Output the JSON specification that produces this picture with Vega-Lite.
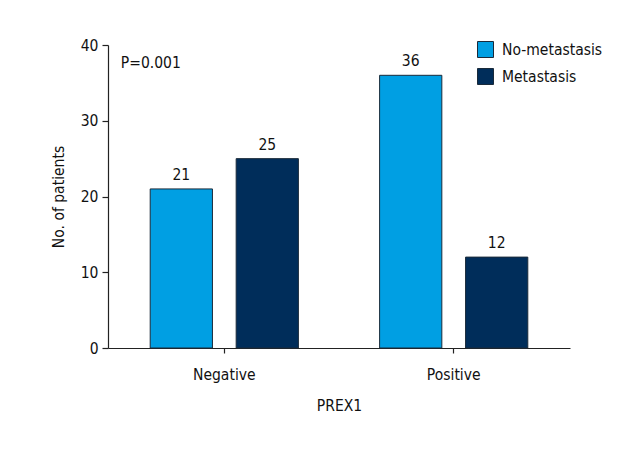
{
  "$schema": "https://vega.github.io/schema/vega-lite/v6.json",
  "width": 462,
  "height": 303,
  "autosize": {"type": "none"},
  "padding": {"left": 108, "top": 45, "right": 70, "bottom": 112},
  "background": "white",
  "config": {
    "font": "DejaVu Sans Condensed, Roboto, sans-serif",
    "view": {"stroke": null},
    "axis": {"grid": false, "domainColor": "#222", "tickColor": "#222", "labelColor": "#111", "titleColor": "#111", "labelFontSize": 15.5, "titleFontSize": 15.5, "titleFontWeight": "normal", "domainWidth": 1.2, "tickWidth": 1.2}
  },
  "data": {"values": [
    {"PREX1": "Negative", "group": "No-metastasis", "n": 21},
    {"PREX1": "Negative", "group": "Metastasis", "n": 25},
    {"PREX1": "Positive", "group": "No-metastasis", "n": 36},
    {"PREX1": "Positive", "group": "Metastasis", "n": 12}
  ]},
  "layer": [
    {
      "mark": {"type": "bar", "stroke": "#1a2a3a", "strokeWidth": 1},
      "encoding": {
        "x": {"field": "PREX1", "type": "nominal", "title": "PREX1",
          "scale": {"paddingInner": 0.246, "paddingOuter": 0.13},
          "axis": {"labelAngle": 0, "labelPadding": 14, "titlePadding": 16, "tickSize": 5}},
        "xOffset": {"field": "group", "type": "nominal", "sort": ["No-metastasis", "Metastasis"],
          "scale": {"paddingInner": 0.276, "paddingOuter": 0.144}},
        "y": {"field": "n", "type": "quantitative", "title": "No. of patients",
          "scale": {"domain": [0, 40]},
          "axis": {"values": [0, 10, 20, 30, 40], "tickSize": 6, "labelPadding": 4, "titlePadding": 14}},
        "color": {"field": "group", "type": "nominal", "sort": ["No-metastasis", "Metastasis"],
          "scale": {"domain": ["No-metastasis", "Metastasis"], "range": ["#009FE3", "#002D5A"]},
          "legend": {"title": null, "orient": "none", "legendX": 369, "legendY": -4, "symbolType": "square", "symbolSize": 256, "symbolStrokeColor": "#1a2a3a", "symbolStrokeWidth": 1, "labelFontSize": 15.5, "labelColor": "#111", "rowPadding": 6, "labelOffset": 8}}
      }
    },
    {
      "mark": {"type": "text", "dy": -14, "fontSize": 15.5, "color": "#111"},
      "encoding": {
        "x": {"field": "PREX1", "type": "nominal"},
        "xOffset": {"field": "group", "type": "nominal", "sort": ["No-metastasis", "Metastasis"]},
        "y": {"field": "n", "type": "quantitative"},
        "text": {"field": "n", "type": "quantitative"}
      }
    },
    {
      "data": {"values": [{"label": "P=0.001", "PREX1": "Negative", "n": 37.6}]},
      "mark": {"type": "text", "align": "left", "baseline": "middle", "fontSize": 15.5, "color": "#111", "dx": -17},
      "encoding": {
        "x": {"field": "PREX1", "type": "nominal", "bandPosition": 0},
        "y": {"field": "n", "type": "quantitative"},
        "text": {"field": "label", "type": "nominal"}
      }
    }
  ]
}
